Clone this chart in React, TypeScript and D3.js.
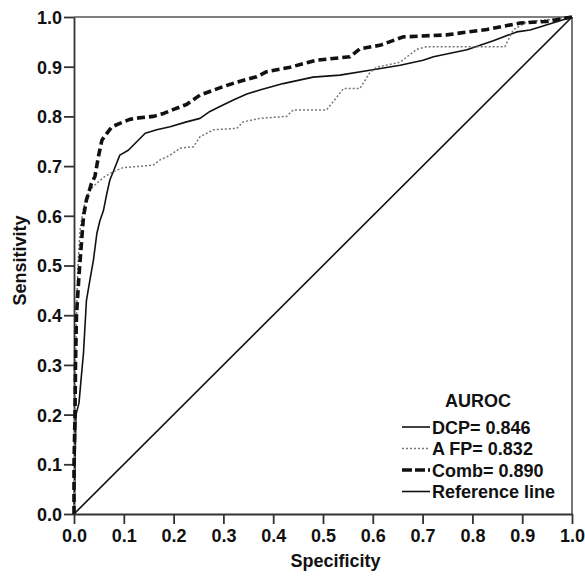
import { useEffect, useRef } from "react";
import * as d3 from "d3";

// ROC points: [1 - specificity, sensitivity]
const dcpPoints: [number, number][] = [
  [0, 0], [0.002, 0.1], [0.004, 0.2], [0.01, 0.223], [0.015, 0.28], [0.019, 0.323],
  [0.025, 0.43], [0.032, 0.471], [0.039, 0.511], [0.046, 0.565], [0.052, 0.59],
  [0.059, 0.61], [0.066, 0.645], [0.072, 0.672], [0.079, 0.689], [0.092, 0.722],
  [0.109, 0.732], [0.126, 0.749], [0.143, 0.766], [0.166, 0.773], [0.193, 0.779],
  [0.226, 0.789], [0.253, 0.796], [0.273, 0.81], [0.293, 0.82], [0.32, 0.833],
  [0.347, 0.845], [0.373, 0.853], [0.42, 0.866], [0.48, 0.879], [0.534, 0.883],
  [0.594, 0.893], [0.655, 0.903], [0.701, 0.913], [0.722, 0.92], [0.789, 0.934],
  [0.842, 0.952], [0.889, 0.97], [0.916, 0.974], [1, 1],
];

const afpPoints: [number, number][] = [
  [0, 0], [0.001, 0.1], [0.002, 0.2], [0.003, 0.3], [0.005, 0.4], [0.008, 0.5],
  [0.012, 0.57], [0.018, 0.61], [0.025, 0.636], [0.032, 0.652], [0.042, 0.662],
  [0.059, 0.677], [0.079, 0.689], [0.099, 0.697], [0.126, 0.699], [0.159, 0.702],
  [0.172, 0.712], [0.193, 0.722], [0.213, 0.736], [0.24, 0.739], [0.253, 0.759],
  [0.28, 0.773], [0.327, 0.776], [0.34, 0.789], [0.373, 0.796], [0.427, 0.8],
  [0.44, 0.813], [0.507, 0.813], [0.52, 0.829], [0.541, 0.856], [0.574, 0.856],
  [0.594, 0.888], [0.608, 0.899], [0.655, 0.909], [0.688, 0.935], [0.708, 0.94],
  [0.865, 0.94], [0.882, 0.974], [0.909, 0.99], [1, 1],
];

const combPoints: [number, number][] = [
  [0, 0], [0, 0.1], [0.002, 0.2], [0.003, 0.3], [0.005, 0.4], [0.01, 0.48],
  [0.013, 0.52], [0.019, 0.598], [0.025, 0.632], [0.035, 0.665], [0.042, 0.679],
  [0.049, 0.719], [0.056, 0.752], [0.066, 0.766], [0.076, 0.779], [0.092, 0.786],
  [0.112, 0.794], [0.13, 0.797], [0.159, 0.8], [0.18, 0.806], [0.2, 0.814],
  [0.226, 0.824], [0.253, 0.843], [0.3, 0.86], [0.327, 0.869], [0.367, 0.88],
  [0.387, 0.89], [0.434, 0.899], [0.487, 0.913], [0.554, 0.92], [0.574, 0.936],
  [0.614, 0.943], [0.661, 0.96], [0.748, 0.964], [0.829, 0.975], [0.896, 0.988],
  [0.949, 0.991], [1, 1],
];

const refPoints: [number, number][] = [[0, 0], [1, 1]];

const tickValues = [0, 0.1, 0.2, 0.3, 0.4, 0.5, 0.6, 0.7, 0.8, 0.9, 1.0];

const legendTitle = "AUROC";
const legendLabels = ["DCP= 0.846", "A FP= 0.832", "Comb= 0.890", "Reference line"];

const App = () => {
  const svgRef = useRef<SVGSVGElement>(null);

  useEffect(() => {
    const W = 585;
    const H = 577;
    const margin = { top: 17, right: 13, bottom: 63, left: 74 };
    const width = W - margin.left - margin.right;
    const height = H - margin.top - margin.bottom;
    const font = "'Liberation Sans', Arial, sans-serif";

    const root = d3.select(svgRef.current);
    root.selectAll("*").remove();
    root.attr("width", W).attr("height", H);

    const svg = root
      .append("g")
      .attr("transform", `translate(${margin.left},${margin.top})`);

    const x = d3.scaleLinear().domain([0, 1]).range([0, width]);
    const y = d3.scaleLinear().domain([0, 1]).range([height, 0]);

    //////////////////////// frame ///////////////////////////
    svg.append("line")
      .attr("x1", 0).attr("x2", width).attr("y1", 0).attr("y2", 0)
      .attr("stroke", "#555").attr("stroke-width", 1.6);
    svg.append("line")
      .attr("x1", width).attr("x2", width).attr("y1", 0).attr("y2", height)
      .attr("stroke", "#555").attr("stroke-width", 1.6);

    //////////////////////// axes ///////////////////////////
    const xAxis = svg.append("g")
      .attr("transform", `translate(0,${height})`)
      .call(d3.axisBottom(x).tickValues(tickValues).tickFormat(d3.format(".1f")).tickSize(10).tickSizeOuter(0).tickPadding(5));
    const yAxis = svg.append("g")
      .call(d3.axisLeft(y).tickValues(tickValues).tickFormat(d3.format(".1f")).tickSize(10).tickSizeOuter(0).tickPadding(2));

    [xAxis, yAxis].forEach(ax => {
      ax.select(".domain").attr("stroke", "#333").attr("stroke-width", 1.8);
      ax.selectAll(".tick line").attr("stroke", "#333").attr("stroke-width", 1.8);
      ax.selectAll(".tick text")
        .attr("fill", "#111")
        .style("font-family", font)
        .style("font-weight", "bold")
        .style("font-size", "18px");
    });
    yAxis.selectAll(".tick text").attr("dy", "0.36em");

    svg.append("text")
      .attr("x", x(0.525))
      .attr("y", height + 53)
      .attr("text-anchor", "middle")
      .style("font-family", font)
      .style("font-weight", "bold")
      .style("font-size", "18px")
      .attr("fill", "#111")
      .text("Specificity");

    svg.append("text")
      .attr("transform", `translate(${-48},${y(0.51)}) rotate(-90)`)
      .attr("text-anchor", "middle")
      .style("font-family", font)
      .style("font-weight", "bold")
      .style("font-size", "18px")
      .attr("fill", "#111")
      .text("Sensitivity");

    //////////////////////// curves ///////////////////////////
    const line = d3.line<[number, number]>().x(d => x(d[0])).y(d => y(d[1]));

    const styles = [
      { color: "#111", width: 1.6, dash: null as string | null },
      { color: "#777", width: 1.5, dash: "2,2" },
      { color: "#111", width: 3.6, dash: "8,4" },
      { color: "#111", width: 1.6, dash: null as string | null },
    ];
    const series = [dcpPoints, afpPoints, combPoints, refPoints];

    series.forEach((pts, i) => {
      svg.append("path")
        .datum(pts)
        .attr("d", line)
        .attr("fill", "none")
        .attr("stroke", styles[i].color)
        .attr("stroke-width", styles[i].width)
        .attr("stroke-dasharray", styles[i].dash)
        .attr("stroke-linejoin", "round");
    });

    //////////////////////// legend ///////////////////////////
    const lg = root.append("g").attr("transform", "translate(402,0)");
    lg.append("text")
      .attr("x", 76)
      .attr("y", 407)
      .attr("text-anchor", "middle")
      .style("font-family", font)
      .style("font-weight", "bold")
      .style("font-size", "18px")
      .attr("fill", "#111")
      .text(legendTitle);

    legendLabels.forEach((label, i) => {
      const cy = 427 + i * 21.5;
      lg.append("line")
        .attr("x1", 0).attr("x2", 28).attr("y1", cy).attr("y2", cy)
        .attr("stroke", styles[i].color)
        .attr("stroke-width", styles[i].width)
        .attr("stroke-dasharray", i === 2 ? "10,3" : styles[i].dash);
      lg.append("text")
        .attr("x", 30)
        .attr("y", cy + 6.5)
        .style("font-family", font)
        .style("font-weight", "bold")
        .style("font-size", "18px")
        .attr("fill", "#111")
        .text(label);
    });
  }, []);

  return (
    <div style={{ position: "absolute", left: 0, top: 0, background: "#fff" }}>
      <svg ref={svgRef}></svg>
    </div>
  );
};

export default App;
